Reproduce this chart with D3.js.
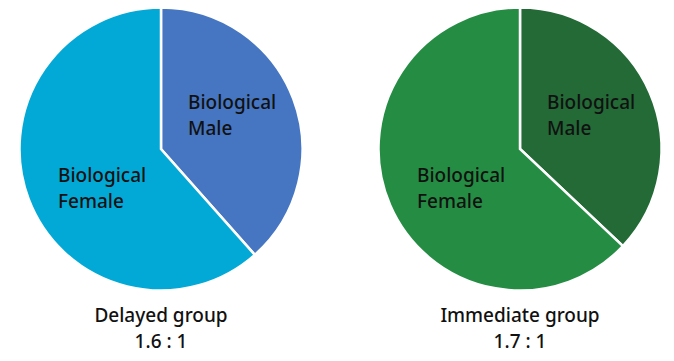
<!DOCTYPE html>
<html lang="en">
<head>
<meta charset="UTF-8">
<title>Sex ratio by group</title>
<script src="https://cdnjs.cloudflare.com/ajax/libs/d3/7.8.5/d3.min.js"></script>
<style>
    body { margin: 0; background: #fff; }
    text { font-family: "Noto Sans", Lato, sans-serif; font-weight: 500; fill: #111; }
</style>
</head>
<body>
<div id="chart"></div>
<script>
    // ratio female : male per group
    var groups = ["Delayed group", "Immediate group"];
    var ratios = ["1.6 : 1", "1.7 : 1"];
    var categories = ["Biological Male", "Biological Female"];
    var delayedValues = [1, 1.6];
    var immediateValues = [1, 1.7];
    var palettes = [["#4676c2", "#03a9d6"], ["#236a36", "#258d43"]];

    var width = 674, height = 361, radius = 141.5;
    var centers = [[161, 149], [520, 149]];
    // label block: left edge and first baseline, relative to pie centre
    var labelPos = [[27, -40], [-103, 33]];

    var svg = d3.select("#chart").append("svg")
        .attr("width", width)
        .attr("height", height);

    var pie = d3.pie().sort(null).value(function (d) { return d; });
    var arc = d3.arc().innerRadius(0).outerRadius(radius);

    [delayedValues, immediateValues].forEach(function (values, gi) {
        var g = svg.append("g")
            .attr("transform", "translate(" + centers[gi][0] + "," + centers[gi][1] + ")");

        var arcs = pie(values);

        g.selectAll("path")
            .data(arcs)
            .enter().append("path")
            .attr("d", arc)
            .attr("fill", function (d, i) { return palettes[gi][i]; })
            .attr("stroke", "#fff")
            .attr("stroke-width", 2.5);

        arcs.forEach(function (d, i) {
            var t = g.append("text")
                .attr("font-size", 19)
                .attr("y", labelPos[i][1]);
            categories[i].split(" ").forEach(function (w, k) {
                t.append("tspan").attr("x", labelPos[i][0]).attr("dy", k ? 26 : 0).text(w);
            });
        });

        var cap = g.append("text")
            .attr("text-anchor", "middle")
            .attr("font-size", 19)
            .attr("y", 322 - centers[gi][1]);
        cap.append("tspan").attr("x", 0).text(groups[gi]);
        cap.append("tspan").attr("x", 0).attr("dy", 26).text(ratios[gi]);
    });
</script>
</body>
</html>
